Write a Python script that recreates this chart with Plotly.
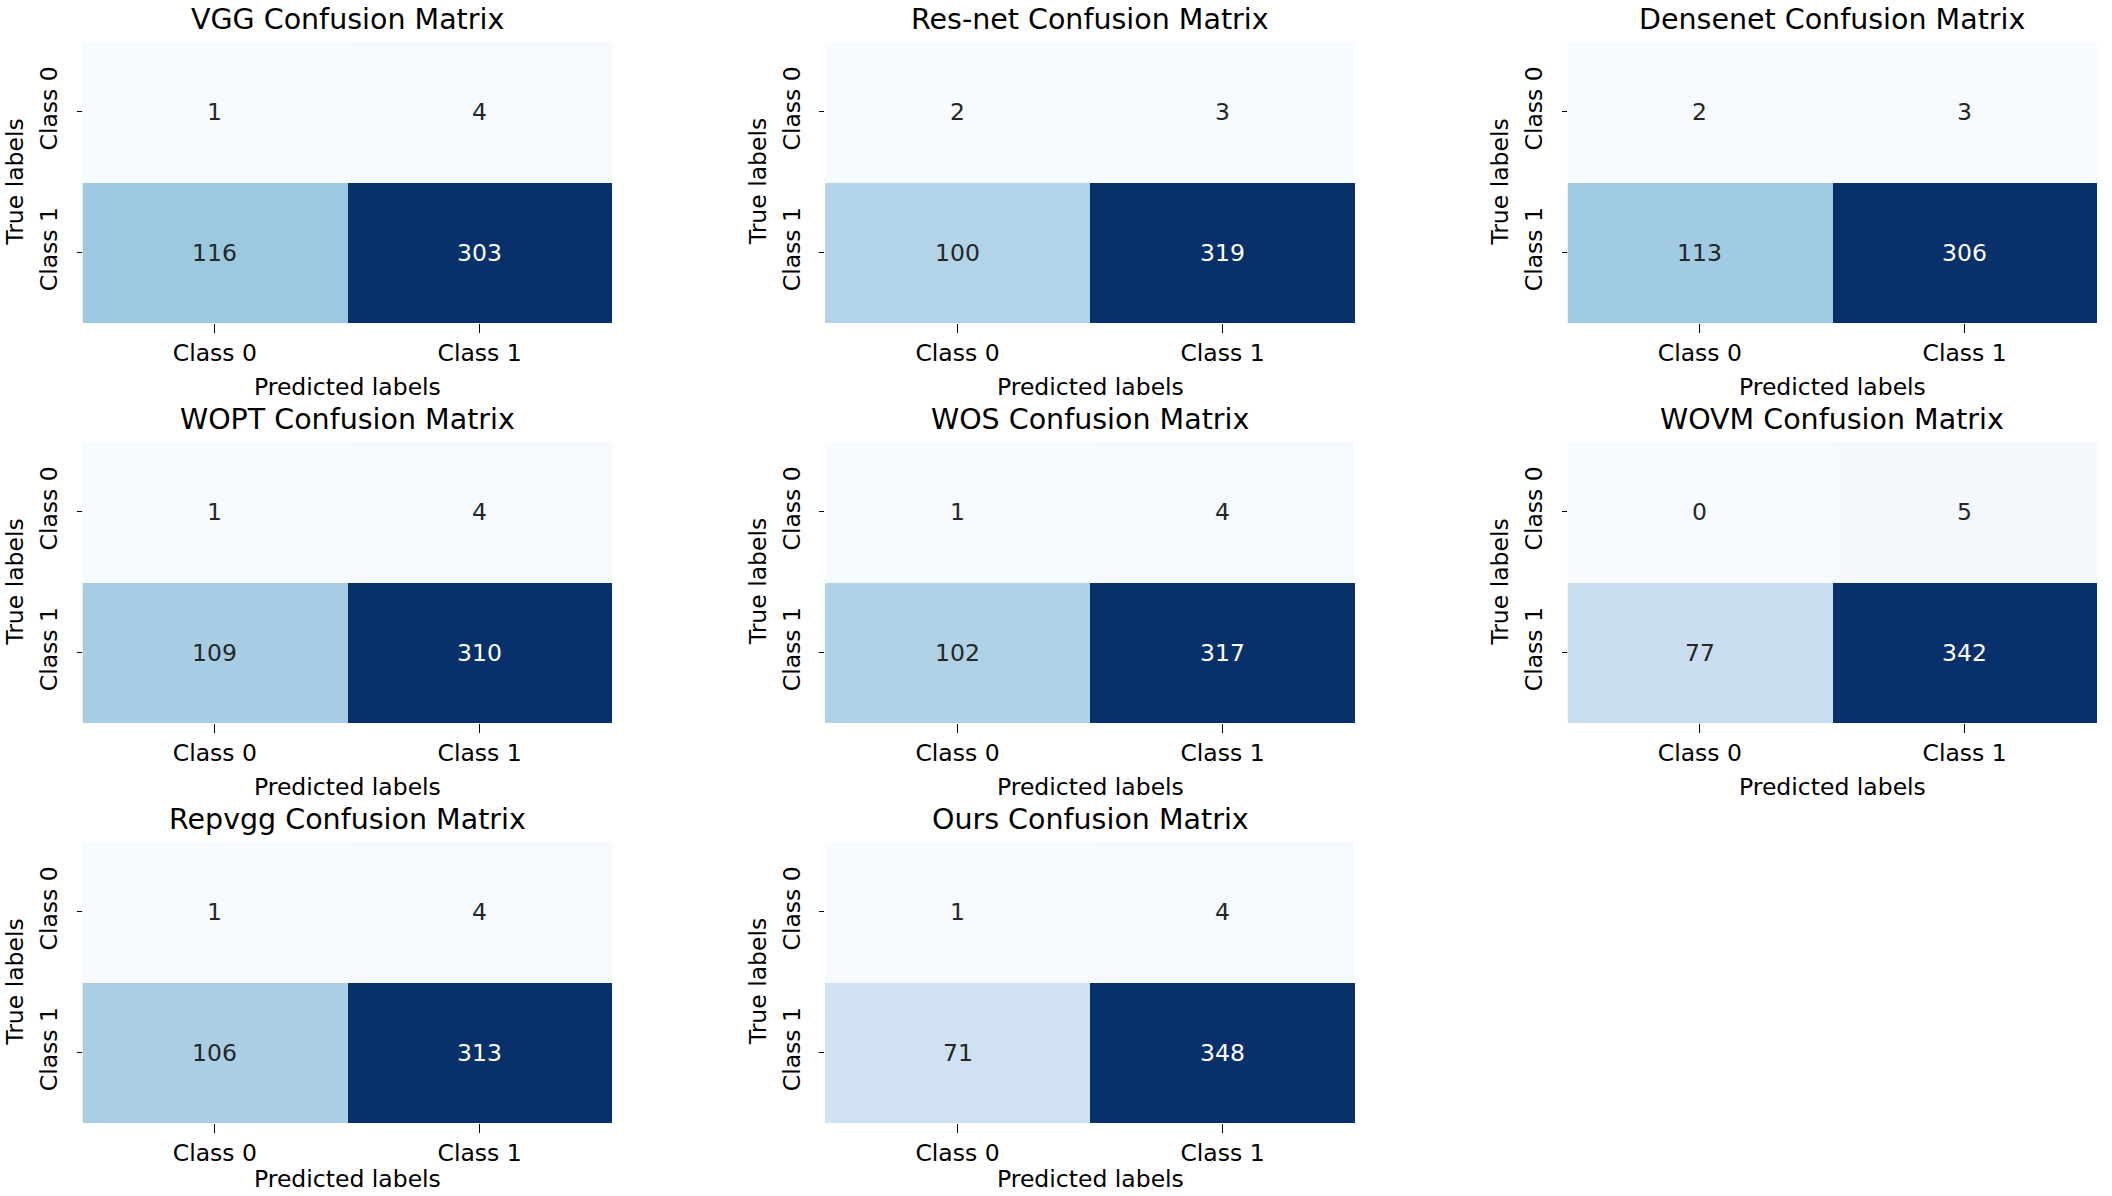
import plotly.graph_objects as go

# ---- data ----
model_names = ["VGG", "Res-net", "Densenet", "WOPT", "WOS", "WOVM", "Repvgg", "Ours"]
class_labels = ["Class 0", "Class 1"]
vgg_cm = [[1, 4], [116, 303]]
resnet_cm = [[2, 3], [100, 319]]
densenet_cm = [[2, 3], [113, 306]]
wopt_cm = [[1, 4], [109, 310]]
wos_cm = [[1, 4], [102, 317]]
wovm_cm = [[0, 5], [77, 342]]
repvgg_cm = [[1, 4], [106, 313]]
ours_cm = [[1, 4], [71, 348]]
matrices = [vgg_cm, resnet_cm, densenet_cm, wopt_cm, wos_cm, wovm_cm, repvgg_cm, ours_cm]

# ---- style ----
W, H = 2112, 1196
BLUES = [(247, 251, 255), (222, 235, 247), (198, 219, 239), (158, 202, 225),
         (107, 174, 214), (66, 146, 198), (33, 113, 181), (8, 81, 156), (8, 48, 107)]
colorscale = [[i / (len(BLUES) - 1), "rgb(%d,%d,%d)" % c] for i, c in enumerate(BLUES)]
FONT = "DejaVu Sans"
TICK_FS = 23.5
TITLE_FS = 28.5

col_px = [(82.5, 612), (825, 1355), (1567.5, 2097)]
row_px = [(41.5, 323), (441.5, 723), (841.5, 1123)]


def interp_color(t):
    t = min(max(t, 0.0), 1.0)
    pos = t * (len(BLUES) - 1)
    i = min(int(pos), len(BLUES) - 2)
    f = pos - i
    a, b = BLUES[i], BLUES[i + 1]
    return tuple(a[k] + (b[k] - a[k]) * f for k in range(3))


def rel_lum(rgb):
    def ch(c):
        c = c / 255.0
        return c / 12.92 if c <= 0.03928 else ((c + 0.055) / 1.055) ** 2.4
    r, g, b = (ch(c) for c in rgb)
    return 0.2126 * r + 0.7152 * g + 0.0722 * b


fig = go.Figure()
annotations = []
layout = {}

for idx, (name, cm) in enumerate(zip(model_names, matrices)):
    r, c = divmod(idx, 3)
    n = idx + 1
    xa = "x" if n == 1 else "x%d" % n
    ya = "y" if n == 1 else "y%d" % n
    x0, x1 = col_px[c]
    y0, y1 = row_px[r]
    xdom = [x0 / W, x1 / W]
    ydom = [1 - y1 / H, 1 - y0 / H]

    fig.add_trace(go.Heatmap(
        z=cm, x=class_labels, y=class_labels, colorscale=colorscale,
        showscale=False, hoverinfo="skip", xaxis=xa, yaxis=ya,
    ))

    layout["xaxis" if n == 1 else "xaxis%d" % n] = dict(
        domain=xdom, anchor=ya, ticks="outside", ticklen=9, tickwidth=1.3,
        tickcolor="black", showgrid=False, zeroline=False, showline=False,
        tickfont=dict(family=FONT, size=TICK_FS, color="black"),
        ticklabelstandoff=0,
    )
    layout["yaxis" if n == 1 else "yaxis%d" % n] = dict(
        domain=ydom, anchor=xa, ticks="outside", ticklen=5, tickwidth=1.3,
        tickcolor="black", showgrid=False, zeroline=False, showline=False,
        autorange="reversed", tickangle=-90,
        tickfont=dict(family=FONT, size=TICK_FS, color="black"),
        ticklabelstandoff=10,
    )

    vmin = min(min(row) for row in cm)
    vmax = max(max(row) for row in cm)
    for i, yl in enumerate(class_labels):
        for j, xl in enumerate(class_labels):
            v = cm[i][j]
            t = (v - vmin) / (vmax - vmin) if vmax > vmin else 0
            col = interp_color(t)
            tc = "#262626" if rel_lum(col) > 0.408 else "white"
            annotations.append(dict(
                x=xl, y=yl, xref=xa, yref=ya, text=str(v), showarrow=False,
                font=dict(family=FONT, size=TICK_FS, color=tc),
            ))

    cx = (xdom[0] + xdom[1]) / 2
    annotations.append(dict(
        x=cx, y=ydom[1], xref="paper", yref="paper", text=name + " Confusion Matrix",
        showarrow=False, yshift=22, yanchor="middle", xanchor="center",
        font=dict(family=FONT, size=TITLE_FS, color="black"),
    ))
    if r < 2:
        xlab_pos = dict(y=ydom[0], yshift=-64, yanchor="middle")
    else:
        xlab_pos = dict(y=0, yshift=1, yanchor="bottom")
    annotations.append(dict(
        x=cx, xref="paper", yref="paper", text="Predicted labels",
        showarrow=False, xanchor="center",
        font=dict(family=FONT, size=TICK_FS, color="black"), **xlab_pos,
    ))
    annotations.append(dict(
        x=xdom[0], y=(ydom[0] + ydom[1]) / 2, xref="paper", yref="paper",
        text="True labels", showarrow=False, xshift=-67, textangle=-90,
        xanchor="center", yanchor="middle",
        font=dict(family=FONT, size=TICK_FS, color="black"),
    ))

fig.update_layout(
    width=W, height=H, margin=dict(l=0, r=0, t=0, b=0),
    paper_bgcolor="white", plot_bgcolor="white",
    annotations=annotations, showlegend=False, **layout,
)

fig.write_html("out.html", config={"displayModeBar": False},
               post_script="document.body.style.margin='0';")
